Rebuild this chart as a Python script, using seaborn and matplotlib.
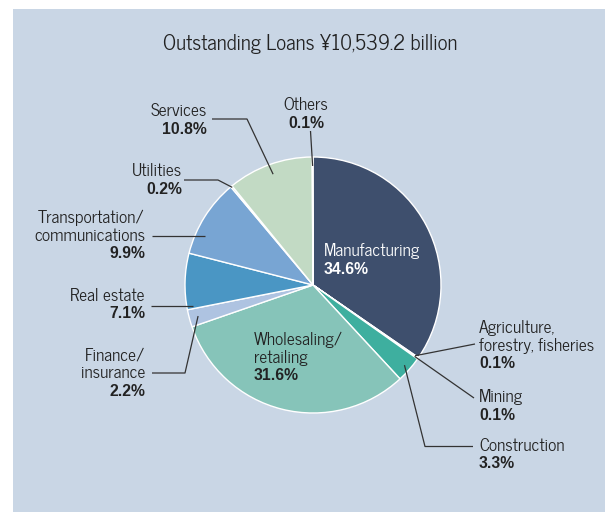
import numpy as np
import matplotlib
matplotlib.use("Agg")
import matplotlib.pyplot as plt
from matplotlib.patches import Rectangle
import seaborn as sns

# ---- data -------------------------------------------------------------
title = "Outstanding Loans \u00a510,539.2 billion"
sectors = [
    "Manufacturing",
    "Agriculture,\nforestry, fisheries",
    "Mining",
    "Construction",
    "Wholesaling/\nretailing",
    "Finance/\ninsurance",
    "Real estate",
    "Transportation/\ncommunications",
    "Utilities",
    "Services",
    "Others",
]
shares = [34.6, 0.1, 0.1, 3.3, 31.6, 2.2, 7.1, 9.9, 0.2, 10.8, 0.1]
colors = [
    "#3e4f6d", "#6f6d8c", "#c5e0da", "#3eaf9f", "#86c4b9", "#aec3e1",
    "#4a96c4", "#78a5d3", "#85bd93", "#c2dac4", "#a9a7b8",
]

# ---- style ------------------------------------------------------------
sns.set_style("white")
FONT = ["News Cycle", "DejaVu Sans"]
BOLD_FONT = ["Liberation Sans", "DejaVu Sans"]
plt.rcParams["font.family"] = FONT
palette = sns.color_palette(colors)

W, H = 605, 512
fig = plt.figure(figsize=(W / 100, H / 100), dpi=100)
ax = fig.add_axes([0, 0, 1, 1])


def P(x, y):
    """Canvas position measured from the top-left corner."""
    return x, H - y


# background panel
ax.add_patch(Rectangle(P(13, H), W - 13, H - 9, facecolor="#c9d6e5",
                       edgecolor="none", zorder=0))

CX, CY, R = 313, 285, 128
wedges, _ = ax.pie(
    shares, colors=palette, startangle=90, counterclock=False,
    center=P(CX, CY), radius=R, frame=True,
    wedgeprops=dict(edgecolor="white", linewidth=1.0),
)
for w in wedges:
    w.set_zorder(2)
ax.set_xlim(0, W)
ax.set_ylim(0, H)
ax.set_aspect("equal")
ax.axis("off")


def mid_point(i, frac):
    w = wedges[i]
    a = np.deg2rad((w.theta1 + w.theta2) / 2)
    cx, cy = P(CX, CY)
    return cx + R * frac * np.cos(a), cy + R * frac * np.sin(a)


ax.text(*P(310, 44), title, ha="center", va="center", fontsize=15,
        color="#222222", zorder=5)

LINE = 18  # spacing between label lines
FS = 12.5


def label(i, x, y_first, ha, color="#222222"):
    lines = sectors[i].split("\n")
    for k, txt in enumerate(lines):
        ax.text(*P(x, y_first + k * LINE), txt, ha=ha, va="center",
                fontsize=FS, color=color, zorder=5)
    ax.text(*P(x, y_first + len(lines) * LINE), f"{shares[i]}%", ha=ha,
            va="center", fontsize=11.3, fontweight="bold", family=BOLD_FONT,
            color=color, zorder=5)


def leader(points, end):
    xs = [p[0] for p in points] + [end[0]]
    ys = [H - p[1] for p in points] + [end[1]]
    ax.plot(xs, ys, color="#333333", lw=0.9, zorder=4,
            solid_capstyle="butt")


# labels inside the pie
label(0, 324, 251, "left", color="white")
label(4, 254, 340, "left")

# right-hand labels
label(1, 479, 328, "left")
leader([(475, 344)], mid_point(1, 0.97))
label(2, 479, 397, "left")
leader([(474, 398)], mid_point(2, 0.97))
label(3, 479, 446, "left")
leader([(473, 446.5), (425, 446.5)], mid_point(3, 0.95))

# left-hand labels
label(5, 145, 355, "right")
leader([(152, 373), (185, 373)], mid_point(5, 0.93))
label(6, 145, 296, "right")
leader([(151, 305.5)], P(193, 305.5))
label(7, 145, 218, "right")
leader([(152, 236)], P(205, 236))
label(8, 182, 171.5, "right")
leader([(184, 180), (218, 180)], mid_point(8, 0.99))
label(9, 207, 111, "right")
leader([(212, 119), (247, 119)], mid_point(9, 0.92))

# top label
label(10, 306, 105.5, "center")
leader([(310.5, 131)], mid_point(10, 0.93))

fig.savefig("out.png", dpi=100, facecolor="white")
